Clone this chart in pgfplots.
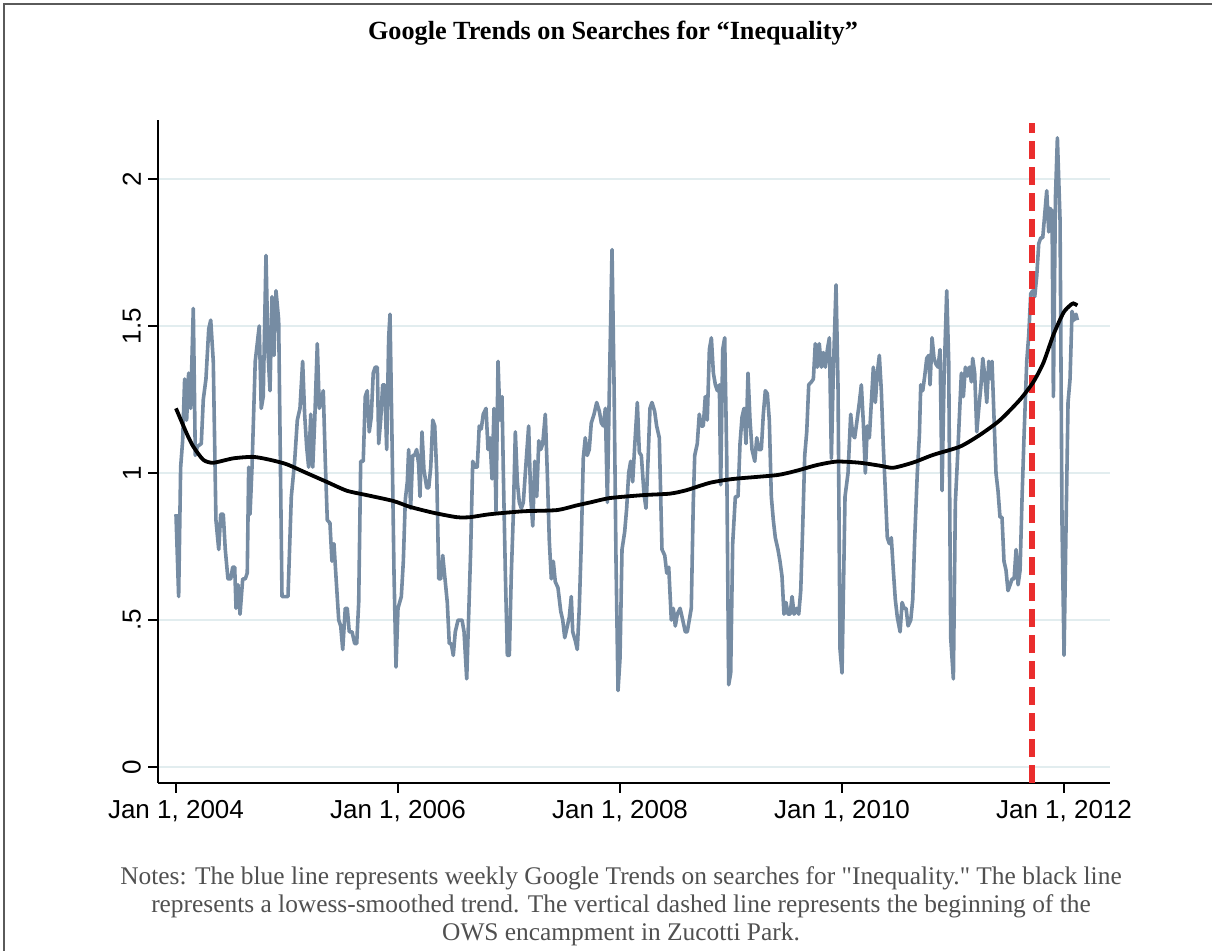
\documentclass[border=0pt]{standalone}
\usepackage{pgfplots}
\pgfplotsset{compat=1.18}
\usepackage{pgfplotstable}
\usepackage{fontspec}
\setmainfont{Liberation Serif}
\newfontfamily\sansf{Liberation Sans}
\newfontfamily\notefont[Ligatures=TeXOff]{Liberation Serif}
\definecolor{trendblue}{RGB}{118,140,163}
\definecolor{gridc}{RGB}{226,237,239}
\definecolor{owsred}{RGB}{234,45,45}
\definecolor{framegray}{RGB}{90,90,90}
\definecolor{notegray}{RGB}{80,80,80}

\pgfplotstableread{
year val
2004.000 0.86
2004.024 0.58
2004.042 1.02
2004.060 1.11
2004.078 1.32
2004.096 1.18
2004.114 1.34
2004.132 1.22
2004.156 1.56
2004.174 1.06
2004.192 1.09
2004.228 1.10
2004.246 1.25
2004.270 1.32
2004.295 1.49
2004.313 1.52
2004.336 1.38
2004.360 0.84
2004.385 0.74
2004.403 0.86
2004.426 0.86
2004.444 0.74
2004.468 0.64
2004.493 0.64
2004.511 0.68
2004.529 0.68
2004.541 0.54
2004.559 0.62
2004.577 0.52
2004.601 0.64
2004.624 0.64
2004.642 0.66
2004.655 1.02
2004.667 0.86
2004.685 1.02
2004.714 1.38
2004.750 1.50
2004.768 1.22
2004.786 1.26
2004.811 1.74
2004.829 1.41
2004.847 1.28
2004.865 1.60
2004.883 1.40
2004.901 1.62
2004.925 1.52
2004.955 0.58
2005.009 0.58
2005.039 0.92
2005.069 1.04
2005.093 1.18
2005.117 1.22
2005.141 1.38
2005.159 1.20
2005.177 1.09
2005.195 1.02
2005.214 1.20
2005.232 1.02
2005.250 1.18
2005.273 1.44
2005.291 1.22
2005.309 1.25
2005.327 1.28
2005.345 1.04
2005.363 0.84
2005.387 0.83
2005.405 0.70
2005.423 0.76
2005.441 0.65
2005.466 0.50
2005.484 0.48
2005.502 0.40
2005.525 0.54
2005.543 0.54
2005.561 0.46
2005.586 0.46
2005.610 0.42
2005.628 0.42
2005.646 0.56
2005.664 1.04
2005.687 1.04
2005.705 1.26
2005.723 1.28
2005.741 1.14
2005.759 1.19
2005.777 1.34
2005.795 1.36
2005.814 1.36
2005.826 1.10
2005.844 1.18
2005.862 1.30
2005.880 1.30
2005.898 1.08
2005.916 1.46
2005.928 1.54
2005.946 1.12
2005.964 0.66
2005.982 0.34
2006.000 0.54
2006.030 0.58
2006.048 0.70
2006.066 0.91
2006.084 0.97
2006.096 1.08
2006.114 0.88
2006.132 1.06
2006.150 1.06
2006.168 1.08
2006.186 1.03
2006.198 0.92
2006.216 1.14
2006.234 1.01
2006.259 0.95
2006.277 0.95
2006.295 1.02
2006.313 1.18
2006.331 1.16
2006.349 1.00
2006.367 0.64
2006.385 0.64
2006.403 0.72
2006.421 0.65
2006.444 0.56
2006.462 0.42
2006.480 0.42
2006.498 0.38
2006.516 0.46
2006.541 0.50
2006.577 0.50
2006.595 0.46
2006.619 0.30
2006.637 0.52
2006.655 0.74
2006.673 1.04
2006.691 1.02
2006.714 1.02
2006.732 1.16
2006.750 1.15
2006.768 1.20
2006.793 1.22
2006.811 1.08
2006.829 1.12
2006.847 0.98
2006.865 1.22
2006.883 0.87
2006.901 1.38
2006.919 1.18
2006.937 1.26
2006.949 1.00
2006.967 0.66
2006.985 0.38
2007.003 0.38
2007.021 0.66
2007.039 0.86
2007.057 1.14
2007.075 0.97
2007.093 0.90
2007.111 0.88
2007.129 0.90
2007.147 1.00
2007.177 1.16
2007.195 0.92
2007.214 0.82
2007.232 1.04
2007.250 0.92
2007.268 1.11
2007.286 1.08
2007.304 1.10
2007.327 1.20
2007.345 1.00
2007.363 0.77
2007.381 0.64
2007.399 0.70
2007.417 0.63
2007.441 0.61
2007.466 0.53
2007.484 0.50
2007.502 0.44
2007.520 0.47
2007.543 0.51
2007.561 0.58
2007.574 0.46
2007.597 0.43
2007.615 0.40
2007.633 0.54
2007.651 0.76
2007.669 1.05
2007.687 1.12
2007.705 1.06
2007.723 1.08
2007.741 1.17
2007.766 1.20
2007.790 1.24
2007.814 1.21
2007.832 1.17
2007.850 1.16
2007.868 1.22
2007.886 0.90
2007.904 1.29
2007.928 1.76
2007.946 1.31
2007.964 0.70
2007.982 0.26
2008.000 0.37
2008.018 0.74
2008.042 0.80
2008.060 0.88
2008.078 1.00
2008.096 1.04
2008.114 0.97
2008.132 1.09
2008.156 1.24
2008.174 1.07
2008.192 1.06
2008.216 0.93
2008.234 0.88
2008.252 1.04
2008.270 1.22
2008.288 1.24
2008.312 1.21
2008.330 1.16
2008.354 1.12
2008.378 0.74
2008.403 0.72
2008.421 0.66
2008.439 0.68
2008.462 0.50
2008.480 0.54
2008.498 0.48
2008.516 0.52
2008.541 0.54
2008.565 0.50
2008.588 0.46
2008.606 0.46
2008.624 0.50
2008.642 0.54
2008.660 0.90
2008.673 1.06
2008.696 1.10
2008.714 1.20
2008.732 1.16
2008.750 1.16
2008.768 1.26
2008.786 1.18
2008.805 1.42
2008.823 1.46
2008.841 1.34
2008.859 1.30
2008.877 1.28
2008.895 1.30
2008.907 0.96
2008.925 1.42
2008.943 1.46
2008.961 1.06
2008.979 0.28
2008.997 0.32
2009.015 0.76
2009.039 0.92
2009.063 0.92
2009.081 1.10
2009.099 1.19
2009.117 1.22
2009.135 1.10
2009.153 1.34
2009.171 1.18
2009.189 1.08
2009.214 1.04
2009.232 1.12
2009.250 1.08
2009.273 1.08
2009.291 1.20
2009.309 1.28
2009.327 1.27
2009.345 1.18
2009.363 0.92
2009.381 0.84
2009.399 0.78
2009.423 0.74
2009.441 0.70
2009.459 0.65
2009.477 0.52
2009.495 0.56
2009.514 0.52
2009.532 0.52
2009.550 0.58
2009.568 0.52
2009.592 0.54
2009.610 0.52
2009.628 0.60
2009.646 0.82
2009.664 1.06
2009.682 1.14
2009.700 1.30
2009.724 1.31
2009.742 1.32
2009.759 1.44
2009.777 1.36
2009.795 1.44
2009.814 1.36
2009.832 1.41
2009.850 1.36
2009.868 1.42
2009.886 1.46
2009.904 1.05
2009.922 1.35
2009.946 1.64
2009.964 1.29
2009.982 0.40
2010.000 0.32
2010.027 0.92
2010.054 1.00
2010.078 1.20
2010.096 1.13
2010.114 1.12
2010.132 1.17
2010.156 1.24
2010.174 1.30
2010.192 1.17
2010.210 1.00
2010.228 1.16
2010.246 1.12
2010.264 1.24
2010.282 1.36
2010.300 1.24
2010.318 1.34
2010.336 1.40
2010.354 1.28
2010.372 1.09
2010.390 0.94
2010.408 0.78
2010.426 0.76
2010.444 0.78
2010.462 0.67
2010.480 0.57
2010.498 0.51
2010.523 0.46
2010.541 0.56
2010.559 0.54
2010.577 0.54
2010.595 0.48
2010.619 0.50
2010.637 0.57
2010.655 0.78
2010.678 1.00
2010.697 1.13
2010.709 1.30
2010.727 1.28
2010.745 1.33
2010.763 1.39
2010.781 1.40
2010.793 1.30
2010.811 1.46
2010.829 1.39
2010.847 1.37
2010.865 1.36
2010.883 1.42
2010.901 0.94
2010.919 1.32
2010.943 1.62
2010.961 1.38
2010.979 0.44
2011.003 0.30
2011.021 0.90
2011.039 1.04
2011.057 1.19
2011.075 1.34
2011.093 1.26
2011.111 1.36
2011.129 1.33
2011.147 1.36
2011.165 1.31
2011.177 1.39
2011.195 1.34
2011.214 1.14
2011.232 1.22
2011.250 1.29
2011.268 1.39
2011.286 1.33
2011.304 1.24
2011.322 1.38
2011.340 1.32
2011.351 1.38
2011.369 1.19
2011.387 1.00
2011.405 0.94
2011.423 0.85
2011.441 0.85
2011.459 0.70
2011.477 0.67
2011.495 0.60
2011.514 0.62
2011.532 0.64
2011.550 0.64
2011.568 0.74
2011.586 0.62
2011.604 0.67
2011.622 0.92
2011.640 1.13
2011.664 1.38
2011.682 1.47
2011.700 1.61
2011.718 1.62
2011.736 1.60
2011.754 1.67
2011.772 1.78
2011.790 1.80
2011.808 1.80
2011.826 1.88
2011.844 1.96
2011.862 1.82
2011.874 1.90
2011.892 1.89
2011.904 1.26
2011.922 1.93
2011.940 2.14
2011.964 1.86
2011.982 0.82
2012.000 0.38
2012.018 0.82
2012.036 1.24
2012.054 1.32
2012.072 1.55
2012.090 1.52
2012.108 1.54
2012.120 1.52
}\weekly

\pgfplotstableread{
year val
2004.000 1.22
2004.096 1.135
2004.156 1.09
2004.246 1.045
2004.336 1.035
2004.516 1.05
2004.696 1.055
2004.847 1.045
2004.997 1.03
2005.177 1.00
2005.358 0.97
2005.538 0.94
2005.718 0.925
2005.958 0.905
2006.108 0.885
2006.318 0.865
2006.529 0.85
2006.649 0.85
2006.829 0.86
2007.129 0.87
2007.430 0.874
2007.610 0.89
2007.730 0.90
2007.910 0.915
2008.210 0.925
2008.450 0.93
2008.601 0.942
2008.811 0.967
2009.021 0.98
2009.412 0.993
2009.592 1.008
2009.772 1.027
2009.952 1.039
2010.162 1.035
2010.342 1.025
2010.462 1.018
2010.642 1.036
2010.822 1.062
2011.063 1.09
2011.243 1.13
2011.423 1.18
2011.604 1.25
2011.724 1.31
2011.814 1.375
2011.904 1.47
2011.994 1.545
2012.054 1.57
2012.084 1.577
2012.120 1.57
}\lowess

\begin{document}
\begin{tikzpicture}
\path[use as bounding box] (0,0) rectangle (606pt,475.5pt);
\draw[framegray, line width=0.8pt] (2pt,0) -- (2pt,473.5pt) -- (606pt,473.5pt);
\node[font=\bfseries\fontsize{13.1}{15}\selectfont] at (306.5pt,459pt) {Google Trends on Searches for “Inequality”};
\begin{axis}[
  at={(79pt,84pt)}, anchor=south west,
  width=476pt, height=331.5pt, scale only axis,
  xmin=2003.838, xmax=2012.414, ymin=-0.054, ymax=2.2007,
  axis lines*=left, axis line style={-, line width=1pt, black},
  xtick={2004,2006,2008,2010,2012},
  xticklabels={{Jan 1, 2004},{Jan 1, 2006},{Jan 1, 2008},{Jan 1, 2010},{Jan 1, 2012}},
  ytick={0,0.5,1,1.5,2}, yticklabels={0,.5,1,1.5,2},
  tick align=outside, major tick length=5pt,
  tick style={black, line width=0.8pt},
  ymajorgrids, major grid style={gridc, line width=1.2pt},
  ticklabel style={font=\sansf\fontsize{13}{15}\selectfont},
  yticklabel style={rotate=90, anchor=south},
]
\addplot[trendblue, line width=1.8pt, line join=round] table[x=year, y=val] {\weekly};
\addplot[owsred, line width=3pt, dash pattern=on 9pt off 4pt] coordinates {(2011.715,-0.054) (2011.715,2.19)};
\addplot[black, line width=1.9pt, smooth, tension=0.4] table[x=year, y=val] {\lowess};
\end{axis}
\node[font=\notefont\fontsize{12.7}{14}\selectfont, text=notegray, align=center] at (310.5pt,22.5pt) {Notes: The blue line represents weekly Google Trends on searches for "Inequality." The black line\\ represents a lowess-smoothed trend. The vertical dashed line represents the beginning of the\\ OWS encampment in Zucotti Park.};
\end{tikzpicture}
\end{document}
